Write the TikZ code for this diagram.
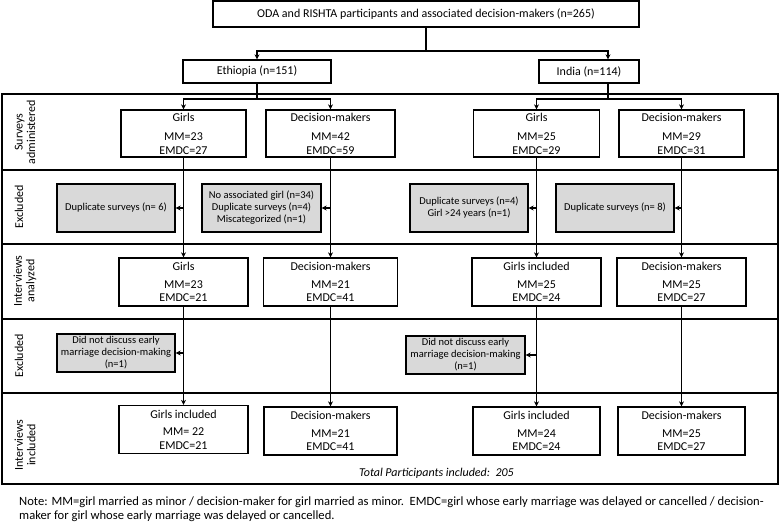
\documentclass[tikz,border=0pt]{standalone}
\usepackage{fontspec}
\setmainfont{Carlito}
\usetikzlibrary{arrows.meta}
\definecolor{exgray}{RGB}{217,217,217}
\begin{document}
\begin{tikzpicture}[x=1pt,y=-1pt,
  box/.style={draw,line width=1.3pt,inner sep=0pt,align=center,font=\fontsize{12}{13.5}\selectfont},
  gbox/.style={box,fill=exgray,font=\fontsize{10.5}{12}\selectfont},
  conn/.style={line width=1.3pt},
  arr/.style={conn,-{Stealth[length=5pt,width=5pt]}},
  rowline/.style={line width=2.2pt},
  lab/.style={rotate=90,align=center,inner sep=0pt,font=\fontsize{12}{12.5}\selectfont},
  plain/.style={inner sep=0pt,font=\fontsize{12}{14}\selectfont},
  notetext/.style={inner sep=0pt,font=\fontsize{12.6}{14}\selectfont}]
\useasboundingbox (0,0) rectangle (780,522);

% frame rows
\draw[rowline] (2,94) rectangle (778,484);
\draw[rowline] (2,170) -- (778,170);
\draw[rowline] (2,244) -- (778,244);
\draw[rowline] (2,319) -- (778,319);
\draw[rowline] (2,393) -- (778,393);

% row labels
\node[lab] (l1) at (25,132) {Surveys\\administered};
\node[lab] (l2) at (19,207) {Excluded};
\node[lab] (l3) at (25,281) {Interviews\\analyzed};
\node[lab] (l4) at (19,356) {Excluded};
\node[lab] (l5) at (25,445) {Interviews\\included};

% top
\node[box,minimum width=426pt,minimum height=26pt] (top) at (426,14) {ODA and RISHTA participants and associated decision-makers (n=265)};
\node[box,minimum width=148pt,minimum height=23pt] (eth) at (257,71.5) {Ethiopia (n=151)};
\node[box,minimum width=100pt,minimum height=23pt] (india) at (589,71.5) {India (n=114)};

% surveys administered
\node[box,minimum width=125pt,minimum height=47pt] (sEG) at (183.5,133.5) {Girls\\[6pt]MM=23\\EMDC=27};
\node[box,minimum width=129pt,minimum height=47pt] (sED) at (330.5,133.5) {Decision-makers\\[6pt]MM=42\\EMDC=59};
\node[box,minimum width=126pt,minimum height=47pt] (sIG) at (536.5,133.5) {Girls\\[6pt]MM=25\\EMDC=29};
\node[box,minimum width=125pt,minimum height=47pt] (sID) at (681.5,133.5) {Decision-makers\\[6pt]MM=29\\EMDC=31};

% excluded 1
\node[gbox,minimum width=118pt,minimum height=48pt] (xE1) at (116,208) {Duplicate surveys (n= 6)};
\node[gbox,minimum width=119pt,minimum height=48pt] (xE2) at (261.5,208) {No associated girl (n=34)\\Duplicate surveys (n=4)\\Miscategorized (n=1)};
\node[gbox,minimum width=118pt,minimum height=48pt] (xI1) at (469,208) {Duplicate surveys (n=4)\\Girl >24 years (n=1)};
\node[gbox,minimum width=118pt,minimum height=48pt] (xI2) at (615,208) {Duplicate surveys (n= 8)};

% interviews analyzed
\node[box,minimum width=129pt,minimum height=48pt] (aEG) at (183.5,282) {Girls\\[4pt]MM=23\\EMDC=21};
\node[box,minimum width=134pt,minimum height=48pt] (aED) at (330.5,282) {Decision-makers\\[4pt]MM=21\\EMDC=41};
\node[box,minimum width=129pt,minimum height=48pt] (aIG) at (536.5,282) {Girls included\\[4pt]MM=25\\EMDC=24};
\node[box,minimum width=129pt,minimum height=48pt] (aID) at (681.5,282) {Decision-makers\\[4pt]MM=25\\EMDC=27};

% excluded 2
\node[gbox,minimum width=118pt,minimum height=38pt] (xE3) at (116,353) {Did not discuss early\\marriage decision-making\\(n=1)};
\node[gbox,minimum width=119pt,minimum height=38pt] (xI3) at (465.5,355) {Did not discuss early\\marriage decision-making\\(n=1)};

% interviews included
\node[box,minimum width=129pt,minimum height=48pt] (iEG) at (183.5,429.5) {Girls included\\[4pt]MM= 22\\EMDC=21};
\node[box,minimum width=133pt,minimum height=48pt] (iED) at (330.5,431) {Decision-makers\\[4pt]MM=21\\EMDC=41};
\node[box,minimum width=127pt,minimum height=48pt] (iIG) at (536.5,431) {Girls included\\[4pt]MM=24\\EMDC=24};
\node[box,minimum width=127pt,minimum height=48pt] (iID) at (681.5,431) {Decision-makers\\[4pt]MM=25\\EMDC=27};

% total and note
\node[plain,anchor=east] (total) at (514,473) {\itshape Total Participants included:\ \ 205};
\node[notetext,anchor=base west] (note1) at (19,505) {Note: MM=girl married as minor / decision-maker for girl married as minor.\ \ EMDC=girl whose early marriage was delayed or cancelled / decision-};
\node[notetext,anchor=base west] (note2) at (19,519) {maker for girl whose early marriage was delayed or cancelled.};

% connectors
\coordinate (tj) at (426,51);
\coordinate (ej) at (257,99);
\coordinate (ij) at (608,99);
\draw[conn] (top.south) -- (tj);
\draw[arr] (tj) -| (eth.north);
\draw[arr] (tj) -| (india.north -| ij);
\draw[conn] (eth.south) -- (ej);
\draw[arr] (ej) -| (sEG.north);
\draw[arr] (ej) -| (sED.north);
\draw[conn] (india.south -| ij) -- (ij);
\draw[arr] (ij) -| (sIG.north);
\draw[arr] (ij) -| (sID.north);

\draw[arr] (sEG.south) -- (aEG.north);
\draw[arr] (sED.south) -- (aED.north);
\draw[arr] (sIG.south) -- (aIG.north);
\draw[arr] (sID.south) -- (aID.north);
\draw[arr] (sEG.south |- xE1.east) -- (xE1.east);
\draw[arr] (sED.south |- xE2.east) -- (xE2.east);
\draw[arr] (sIG.south |- xI1.east) -- (xI1.east);
\draw[arr] (sID.south |- xI2.east) -- (xI2.east);

\draw[arr] (aEG.south) -- (iEG.north);
\draw[arr] (aED.south) -- (iED.north);
\draw[arr] (aIG.south) -- (iIG.north);
\draw[arr] (aID.south) -- (iID.north);
\draw[arr] (aEG.south |- xE3.east) -- (xE3.east);
\draw[arr] (aIG.south |- xI3.east) -- (xI3.east);
\end{tikzpicture}
\end{document}
